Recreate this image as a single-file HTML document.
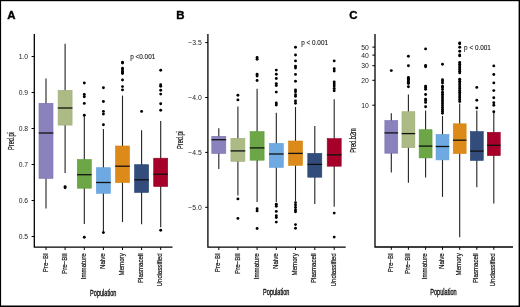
<!DOCTYPE html>
<html><head><meta charset="utf-8"><style>
html,body{margin:0;padding:0;background:#fff;overflow:hidden;}
svg{display:block;will-change:transform;}
text{font-family:"Liberation Sans",sans-serif;fill:#222;}
.tk{font-size:6.8px;}
.xl{font-size:7.4px;fill:#111;stroke:#111;stroke-width:0.2px;}
.let{font-size:10.4px;font-weight:bold;fill:#000;stroke:#000;stroke-width:0.35px;}
.pt{font-size:6.4px;fill:#111;stroke:#111;stroke-width:0.1px;}
.yl{font-size:8.3px;fill:#111;stroke:#111;stroke-width:0.2px;}
.pop{font-size:9px;fill:#111;stroke:#111;stroke-width:0.35px;}
</style></head><body>
<svg width="520" height="307" viewBox="0 0 520 307">
<rect x="0" y="0" width="520" height="307" fill="#fff"/>
<line x1="46.0" y1="78.5" x2="46.0" y2="208.6" stroke="#222" stroke-width="1.1"/>
<rect x="39.00" y="103.30" width="14.00" height="75.10" fill="#8a82bd" stroke="#7b71b3" stroke-width="0.6"/>
<line x1="38.70" y1="133.0" x2="53.30" y2="133.0" stroke="#111" stroke-width="1.3"/>
<line x1="65.1" y1="43.7" x2="65.1" y2="172.9" stroke="#222" stroke-width="1.1"/>
<rect x="58.10" y="90.30" width="14.00" height="34.80" fill="#acbb85" stroke="#9fb077" stroke-width="0.6"/>
<line x1="57.80" y1="108.0" x2="72.40" y2="108.0" stroke="#111" stroke-width="1.3"/>
<circle cx="65.1" cy="186.6" r="1.45" fill="#000"/>
<circle cx="65.1" cy="187.8" r="1.45" fill="#000"/>
<line x1="84.3" y1="116.0" x2="84.3" y2="224.0" stroke="#222" stroke-width="1.1"/>
<rect x="77.30" y="159.50" width="14.00" height="28.70" fill="#6ca647" stroke="#5c9d36" stroke-width="0.6"/>
<line x1="77.00" y1="174.7" x2="91.60" y2="174.7" stroke="#111" stroke-width="1.3"/>
<circle cx="84.3" cy="83.0" r="1.45" fill="#000"/>
<circle cx="84.3" cy="94.5" r="1.45" fill="#000"/>
<circle cx="84.3" cy="96.7" r="1.45" fill="#000"/>
<circle cx="84.3" cy="103.4" r="1.45" fill="#000"/>
<circle cx="84.3" cy="115.3" r="1.45" fill="#000"/>
<circle cx="84.3" cy="237.2" r="1.45" fill="#000"/>
<line x1="103.4" y1="129.0" x2="103.4" y2="232.6" stroke="#222" stroke-width="1.1"/>
<rect x="96.40" y="167.70" width="14.00" height="25.60" fill="#6eaae1" stroke="#5f9fdb" stroke-width="0.6"/>
<line x1="96.10" y1="182.5" x2="110.70" y2="182.5" stroke="#111" stroke-width="1.3"/>
<circle cx="103.4" cy="87.8" r="1.45" fill="#000"/>
<circle cx="103.4" cy="101.5" r="1.45" fill="#000"/>
<circle cx="103.4" cy="111.4" r="1.45" fill="#000"/>
<circle cx="103.4" cy="114.1" r="1.45" fill="#000"/>
<circle cx="103.4" cy="124.7" r="1.45" fill="#000"/>
<circle cx="103.4" cy="232.6" r="1.45" fill="#000"/>
<line x1="122.5" y1="95.6" x2="122.5" y2="222.0" stroke="#222" stroke-width="1.1"/>
<rect x="115.50" y="146.00" width="14.00" height="36.60" fill="#dc8b1b" stroke="#d48310" stroke-width="0.6"/>
<line x1="115.20" y1="166.2" x2="129.80" y2="166.2" stroke="#111" stroke-width="1.3"/>
<circle cx="122.5" cy="62.3" r="1.45" fill="#000"/>
<circle cx="122.5" cy="63.1" r="1.45" fill="#000"/>
<circle cx="122.5" cy="68.2" r="1.45" fill="#000"/>
<circle cx="122.5" cy="69.9" r="1.45" fill="#000"/>
<circle cx="122.5" cy="71.5" r="1.45" fill="#000"/>
<circle cx="122.5" cy="72.8" r="1.45" fill="#000"/>
<circle cx="122.5" cy="73.6" r="1.45" fill="#000"/>
<circle cx="122.5" cy="80.0" r="1.45" fill="#000"/>
<circle cx="122.5" cy="86.6" r="1.45" fill="#000"/>
<circle cx="122.5" cy="89.9" r="1.45" fill="#000"/>
<line x1="141.6" y1="130.2" x2="141.6" y2="224.3" stroke="#222" stroke-width="1.1"/>
<rect x="134.60" y="164.70" width="14.00" height="27.70" fill="#324c7b" stroke="#243f73" stroke-width="0.6"/>
<line x1="134.30" y1="179.8" x2="148.90" y2="179.8" stroke="#111" stroke-width="1.3"/>
<circle cx="141.6" cy="111.4" r="1.45" fill="#000"/>
<line x1="160.7" y1="121.0" x2="160.7" y2="227.3" stroke="#222" stroke-width="1.1"/>
<rect x="153.70" y="158.20" width="14.00" height="28.30" fill="#a6002a" stroke="#9a0024" stroke-width="0.6"/>
<line x1="153.40" y1="174.2" x2="168.00" y2="174.2" stroke="#111" stroke-width="1.3"/>
<circle cx="160.7" cy="70.3" r="1.45" fill="#000"/>
<circle cx="160.7" cy="84.7" r="1.45" fill="#000"/>
<circle cx="160.7" cy="86.3" r="1.45" fill="#000"/>
<circle cx="160.7" cy="90.3" r="1.45" fill="#000"/>
<circle cx="160.7" cy="94.1" r="1.45" fill="#000"/>
<circle cx="160.7" cy="103.8" r="1.45" fill="#000"/>
<circle cx="160.7" cy="110.2" r="1.45" fill="#000"/>
<circle cx="160.7" cy="230.3" r="1.45" fill="#000"/>
<path d="M34.3 34 V247.2 H172.5" fill="none" stroke="#000" stroke-width="1.3"/>
<line x1="31.599999999999998" y1="56.5" x2="34.3" y2="56.5" stroke="#000" stroke-width="1"/>
<text x="28.099999999999998" y="58.6" text-anchor="end" class="tk">1.0</text>
<line x1="31.599999999999998" y1="92.5" x2="34.3" y2="92.5" stroke="#000" stroke-width="1"/>
<text x="28.099999999999998" y="94.6" text-anchor="end" class="tk">0.9</text>
<line x1="31.599999999999998" y1="128.5" x2="34.3" y2="128.5" stroke="#000" stroke-width="1"/>
<text x="28.099999999999998" y="130.6" text-anchor="end" class="tk">0.8</text>
<line x1="31.599999999999998" y1="164.5" x2="34.3" y2="164.5" stroke="#000" stroke-width="1"/>
<text x="28.099999999999998" y="166.6" text-anchor="end" class="tk">0.7</text>
<line x1="31.599999999999998" y1="200.5" x2="34.3" y2="200.5" stroke="#000" stroke-width="1"/>
<text x="28.099999999999998" y="202.6" text-anchor="end" class="tk">0.6</text>
<line x1="31.599999999999998" y1="236.5" x2="34.3" y2="236.5" stroke="#000" stroke-width="1"/>
<text x="28.099999999999998" y="238.6" text-anchor="end" class="tk">0.5</text>
<line x1="46.0" y1="247.2" x2="46.0" y2="250.0" stroke="#000" stroke-width="1"/>
<text transform="translate(47.6 253.3) rotate(-90) scale(0.83 1)" text-anchor="end" class="xl">Pre−BI</text>
<line x1="65.1" y1="247.2" x2="65.1" y2="250.0" stroke="#000" stroke-width="1"/>
<text transform="translate(66.69999999999999 253.3) rotate(-90) scale(0.83 1)" text-anchor="end" class="xl">Pre−BII</text>
<line x1="84.3" y1="247.2" x2="84.3" y2="250.0" stroke="#000" stroke-width="1"/>
<text transform="translate(85.89999999999999 253.3) rotate(-90) scale(0.83 1)" text-anchor="end" class="xl">Immature</text>
<line x1="103.4" y1="247.2" x2="103.4" y2="250.0" stroke="#000" stroke-width="1"/>
<text transform="translate(105.0 253.3) rotate(-90) scale(0.83 1)" text-anchor="end" class="xl">Naive</text>
<line x1="122.5" y1="247.2" x2="122.5" y2="250.0" stroke="#000" stroke-width="1"/>
<text transform="translate(124.1 253.3) rotate(-90) scale(0.83 1)" text-anchor="end" class="xl">Memory</text>
<line x1="141.6" y1="247.2" x2="141.6" y2="250.0" stroke="#000" stroke-width="1"/>
<text transform="translate(143.2 253.3) rotate(-90) scale(0.83 1)" text-anchor="end" class="xl">Plasmacell</text>
<line x1="160.7" y1="247.2" x2="160.7" y2="250.0" stroke="#000" stroke-width="1"/>
<text transform="translate(162.29999999999998 253.3) rotate(-90) scale(0.83 1)" text-anchor="end" class="xl">Unclassified</text>
<text transform="translate(7.3 18.9) scale(1.1 1)" class="let">A</text>
<text x="130.2" y="58.6" class="pt">p <0.001</text>
<line x1="218.8" y1="128.2" x2="218.8" y2="168.9" stroke="#222" stroke-width="1.1"/>
<rect x="211.80" y="136.30" width="14.00" height="17.20" fill="#8a82bd" stroke="#7b71b3" stroke-width="0.6"/>
<line x1="211.50" y1="139.7" x2="226.10" y2="139.7" stroke="#111" stroke-width="1.3"/>
<line x1="237.9" y1="106.4" x2="237.9" y2="195.5" stroke="#222" stroke-width="1.1"/>
<rect x="230.90" y="138.30" width="14.00" height="23.10" fill="#acbb85" stroke="#9fb077" stroke-width="0.6"/>
<line x1="230.60" y1="150.9" x2="245.20" y2="150.9" stroke="#111" stroke-width="1.3"/>
<circle cx="237.9" cy="95.2" r="1.45" fill="#000"/>
<circle cx="237.9" cy="99.9" r="1.45" fill="#000"/>
<circle cx="237.9" cy="198.9" r="1.45" fill="#000"/>
<circle cx="237.9" cy="218.4" r="1.45" fill="#000"/>
<line x1="257.1" y1="88.8" x2="257.1" y2="201.9" stroke="#222" stroke-width="1.1"/>
<rect x="250.10" y="131.60" width="14.00" height="28.60" fill="#6ca647" stroke="#5c9d36" stroke-width="0.6"/>
<line x1="249.80" y1="147.9" x2="264.40" y2="147.9" stroke="#111" stroke-width="1.3"/>
<circle cx="257.1" cy="57.4" r="1.45" fill="#000"/>
<circle cx="257.1" cy="59.3" r="1.45" fill="#000"/>
<circle cx="257.1" cy="74.2" r="1.45" fill="#000"/>
<circle cx="257.1" cy="76.1" r="1.45" fill="#000"/>
<circle cx="257.1" cy="80.5" r="1.45" fill="#000"/>
<circle cx="257.1" cy="208.8" r="1.45" fill="#000"/>
<circle cx="257.1" cy="210.9" r="1.45" fill="#000"/>
<circle cx="257.1" cy="228.5" r="1.45" fill="#000"/>
<line x1="276.3" y1="112.8" x2="276.3" y2="201.9" stroke="#222" stroke-width="1.1"/>
<rect x="269.30" y="143.40" width="14.00" height="24.00" fill="#6eaae1" stroke="#5f9fdb" stroke-width="0.6"/>
<line x1="269.00" y1="154.0" x2="283.60" y2="154.0" stroke="#111" stroke-width="1.3"/>
<circle cx="276.3" cy="70.1" r="1.45" fill="#000"/>
<circle cx="276.3" cy="74.2" r="1.45" fill="#000"/>
<circle cx="276.3" cy="78.5" r="1.45" fill="#000"/>
<circle cx="276.3" cy="83.6" r="1.45" fill="#000"/>
<circle cx="276.3" cy="85.5" r="1.45" fill="#000"/>
<circle cx="276.3" cy="92.1" r="1.45" fill="#000"/>
<circle cx="276.3" cy="103.0" r="1.45" fill="#000"/>
<circle cx="276.3" cy="105.0" r="1.45" fill="#000"/>
<circle cx="276.3" cy="204.3" r="1.45" fill="#000"/>
<circle cx="276.3" cy="206.2" r="1.45" fill="#000"/>
<circle cx="276.3" cy="211.4" r="1.45" fill="#000"/>
<circle cx="276.3" cy="215.8" r="1.45" fill="#000"/>
<circle cx="276.3" cy="217.5" r="1.45" fill="#000"/>
<circle cx="276.3" cy="222.1" r="1.45" fill="#000"/>
<line x1="295.5" y1="107.0" x2="295.5" y2="201.3" stroke="#222" stroke-width="1.1"/>
<rect x="288.50" y="141.00" width="14.00" height="24.30" fill="#dc8b1b" stroke="#d48310" stroke-width="0.6"/>
<line x1="288.20" y1="153.4" x2="302.80" y2="153.4" stroke="#111" stroke-width="1.3"/>
<circle cx="295.5" cy="47.2" r="1.45" fill="#000"/>
<circle cx="295.5" cy="55.0" r="1.45" fill="#000"/>
<circle cx="295.5" cy="60.9" r="1.45" fill="#000"/>
<circle cx="295.5" cy="66.2" r="1.45" fill="#000"/>
<circle cx="295.5" cy="68.1" r="1.45" fill="#000"/>
<circle cx="295.5" cy="74.4" r="1.45" fill="#000"/>
<circle cx="295.5" cy="81.2" r="1.45" fill="#000"/>
<circle cx="295.5" cy="90.0" r="1.45" fill="#000"/>
<circle cx="295.5" cy="91.8" r="1.45" fill="#000"/>
<circle cx="295.5" cy="94.6" r="1.45" fill="#000"/>
<circle cx="295.5" cy="96.3" r="1.45" fill="#000"/>
<circle cx="295.5" cy="100.9" r="1.45" fill="#000"/>
<circle cx="295.5" cy="103.2" r="1.45" fill="#000"/>
<circle cx="295.5" cy="202.6" r="1.45" fill="#000"/>
<circle cx="295.5" cy="205.0" r="1.45" fill="#000"/>
<circle cx="295.5" cy="207.5" r="1.45" fill="#000"/>
<circle cx="295.5" cy="210.0" r="1.45" fill="#000"/>
<circle cx="295.5" cy="211.8" r="1.45" fill="#000"/>
<circle cx="295.5" cy="224.6" r="1.45" fill="#000"/>
<circle cx="295.5" cy="228.2" r="1.45" fill="#000"/>
<line x1="314.8" y1="125.9" x2="314.8" y2="203.9" stroke="#222" stroke-width="1.1"/>
<rect x="307.80" y="153.40" width="14.00" height="23.80" fill="#324c7b" stroke="#243f73" stroke-width="0.6"/>
<line x1="307.50" y1="164.4" x2="322.10" y2="164.4" stroke="#111" stroke-width="1.3"/>
<line x1="334.2" y1="99.2" x2="334.2" y2="206.8" stroke="#222" stroke-width="1.1"/>
<rect x="327.20" y="138.60" width="14.00" height="27.60" fill="#a6002a" stroke="#9a0024" stroke-width="0.6"/>
<line x1="326.90" y1="154.8" x2="341.50" y2="154.8" stroke="#111" stroke-width="1.3"/>
<circle cx="334.2" cy="60.9" r="1.45" fill="#000"/>
<circle cx="334.2" cy="68.7" r="1.45" fill="#000"/>
<circle cx="334.2" cy="71.0" r="1.45" fill="#000"/>
<circle cx="334.2" cy="82.0" r="1.45" fill="#000"/>
<circle cx="334.2" cy="84.0" r="1.45" fill="#000"/>
<circle cx="334.2" cy="86.0" r="1.45" fill="#000"/>
<circle cx="334.2" cy="88.5" r="1.45" fill="#000"/>
<circle cx="334.2" cy="90.7" r="1.45" fill="#000"/>
<circle cx="334.2" cy="213.1" r="1.45" fill="#000"/>
<circle cx="334.2" cy="237.1" r="1.45" fill="#000"/>
<path d="M207.9 34 V247.2 H345.7" fill="none" stroke="#000" stroke-width="1.3"/>
<line x1="205.20000000000002" y1="42.6" x2="207.9" y2="42.6" stroke="#000" stroke-width="1"/>
<text x="201.70000000000002" y="45.1" text-anchor="end" class="tk">−3.5</text>
<line x1="205.20000000000002" y1="97.5" x2="207.9" y2="97.5" stroke="#000" stroke-width="1"/>
<text x="201.70000000000002" y="100.0" text-anchor="end" class="tk">−4.0</text>
<line x1="205.20000000000002" y1="152.4" x2="207.9" y2="152.4" stroke="#000" stroke-width="1"/>
<text x="201.70000000000002" y="154.9" text-anchor="end" class="tk">−4.5</text>
<line x1="205.20000000000002" y1="207.3" x2="207.9" y2="207.3" stroke="#000" stroke-width="1"/>
<text x="201.70000000000002" y="209.8" text-anchor="end" class="tk">−5.0</text>
<line x1="218.8" y1="247.2" x2="218.8" y2="250.0" stroke="#000" stroke-width="1"/>
<text transform="translate(220.4 253.3) rotate(-90) scale(0.83 1)" text-anchor="end" class="xl">Pre−BI</text>
<line x1="237.9" y1="247.2" x2="237.9" y2="250.0" stroke="#000" stroke-width="1"/>
<text transform="translate(239.5 253.3) rotate(-90) scale(0.83 1)" text-anchor="end" class="xl">Pre−BII</text>
<line x1="257.1" y1="247.2" x2="257.1" y2="250.0" stroke="#000" stroke-width="1"/>
<text transform="translate(258.70000000000005 253.3) rotate(-90) scale(0.83 1)" text-anchor="end" class="xl">Immature</text>
<line x1="276.3" y1="247.2" x2="276.3" y2="250.0" stroke="#000" stroke-width="1"/>
<text transform="translate(277.90000000000003 253.3) rotate(-90) scale(0.83 1)" text-anchor="end" class="xl">Naive</text>
<line x1="295.5" y1="247.2" x2="295.5" y2="250.0" stroke="#000" stroke-width="1"/>
<text transform="translate(297.1 253.3) rotate(-90) scale(0.83 1)" text-anchor="end" class="xl">Memory</text>
<line x1="314.8" y1="247.2" x2="314.8" y2="250.0" stroke="#000" stroke-width="1"/>
<text transform="translate(316.40000000000003 253.3) rotate(-90) scale(0.83 1)" text-anchor="end" class="xl">Plasmacell</text>
<line x1="334.2" y1="247.2" x2="334.2" y2="250.0" stroke="#000" stroke-width="1"/>
<text transform="translate(335.8 253.3) rotate(-90) scale(0.83 1)" text-anchor="end" class="xl">Unclassified</text>
<text transform="translate(176.3 18.9) scale(1.1 1)" class="let">B</text>
<text x="301.2" y="45.3" class="pt">p < 0.001</text>
<line x1="391.3" y1="113.3" x2="391.3" y2="172.6" stroke="#222" stroke-width="1.1"/>
<rect x="384.85" y="120.50" width="12.90" height="32.70" fill="#8a82bd" stroke="#7b71b3" stroke-width="0.6"/>
<line x1="384.55" y1="132.9" x2="398.05" y2="132.9" stroke="#111" stroke-width="1.3"/>
<circle cx="391.3" cy="70.6" r="1.45" fill="#000"/>
<line x1="408.4" y1="94.4" x2="408.4" y2="182.8" stroke="#222" stroke-width="1.1"/>
<rect x="401.95" y="111.70" width="12.90" height="36.00" fill="#acbb85" stroke="#9fb077" stroke-width="0.6"/>
<line x1="401.65" y1="133.6" x2="415.15" y2="133.6" stroke="#111" stroke-width="1.3"/>
<circle cx="408.4" cy="56.3" r="1.45" fill="#000"/>
<circle cx="408.4" cy="65.7" r="1.45" fill="#000"/>
<circle cx="408.4" cy="77.4" r="1.45" fill="#000"/>
<circle cx="408.4" cy="78.5" r="1.45" fill="#000"/>
<circle cx="408.4" cy="79.6" r="1.45" fill="#000"/>
<circle cx="408.4" cy="80.9" r="1.45" fill="#000"/>
<circle cx="408.4" cy="82.2" r="1.45" fill="#000"/>
<circle cx="408.4" cy="83.5" r="1.45" fill="#000"/>
<circle cx="408.4" cy="86.7" r="1.45" fill="#000"/>
<line x1="425.6" y1="110.4" x2="425.6" y2="177.4" stroke="#222" stroke-width="1.1"/>
<rect x="419.15" y="129.70" width="12.90" height="28.20" fill="#6ca647" stroke="#5c9d36" stroke-width="0.6"/>
<line x1="418.85" y1="146.1" x2="432.35" y2="146.1" stroke="#111" stroke-width="1.3"/>
<circle cx="425.6" cy="48.9" r="1.45" fill="#000"/>
<circle cx="425.6" cy="65.5" r="1.45" fill="#000"/>
<circle cx="425.6" cy="66.8" r="1.45" fill="#000"/>
<circle cx="425.6" cy="86.1" r="1.45" fill="#000"/>
<circle cx="425.6" cy="87.4" r="1.45" fill="#000"/>
<circle cx="425.6" cy="89.3" r="1.45" fill="#000"/>
<circle cx="425.6" cy="94.5" r="1.45" fill="#000"/>
<circle cx="425.6" cy="99.1" r="1.45" fill="#000"/>
<circle cx="425.6" cy="100.4" r="1.45" fill="#000"/>
<circle cx="425.6" cy="102.4" r="1.45" fill="#000"/>
<circle cx="425.6" cy="106.7" r="1.45" fill="#000"/>
<line x1="442.5" y1="115.9" x2="442.5" y2="196.9" stroke="#222" stroke-width="1.1"/>
<rect x="436.05" y="134.40" width="12.90" height="25.50" fill="#6eaae1" stroke="#5f9fdb" stroke-width="0.6"/>
<line x1="435.75" y1="146.5" x2="449.25" y2="146.5" stroke="#111" stroke-width="1.3"/>
<circle cx="442.5" cy="64.3" r="1.45" fill="#000"/>
<circle cx="442.5" cy="79.8" r="1.45" fill="#000"/>
<circle cx="442.5" cy="81.1" r="1.45" fill="#000"/>
<circle cx="442.5" cy="83.0" r="1.45" fill="#000"/>
<circle cx="442.5" cy="86.3" r="1.45" fill="#000"/>
<circle cx="442.5" cy="87.6" r="1.45" fill="#000"/>
<circle cx="442.5" cy="89.5" r="1.45" fill="#000"/>
<circle cx="442.5" cy="92.3" r="1.45" fill="#000"/>
<circle cx="442.5" cy="94.2" r="1.45" fill="#000"/>
<circle cx="442.5" cy="96.1" r="1.45" fill="#000"/>
<circle cx="442.5" cy="98.0" r="1.45" fill="#000"/>
<circle cx="442.5" cy="99.9" r="1.45" fill="#000"/>
<circle cx="442.5" cy="101.8" r="1.45" fill="#000"/>
<circle cx="442.5" cy="103.7" r="1.45" fill="#000"/>
<circle cx="442.5" cy="105.6" r="1.45" fill="#000"/>
<circle cx="442.5" cy="107.5" r="1.45" fill="#000"/>
<circle cx="442.5" cy="109.4" r="1.45" fill="#000"/>
<circle cx="442.5" cy="111.3" r="1.45" fill="#000"/>
<circle cx="442.5" cy="113.2" r="1.45" fill="#000"/>
<line x1="459.7" y1="103.6" x2="459.7" y2="237.2" stroke="#222" stroke-width="1.1"/>
<rect x="453.25" y="123.80" width="12.90" height="29.80" fill="#dc8b1b" stroke="#d48310" stroke-width="0.6"/>
<line x1="452.95" y1="140.2" x2="466.45" y2="140.2" stroke="#111" stroke-width="1.3"/>
<circle cx="459.7" cy="42.9" r="1.45" fill="#000"/>
<circle cx="459.7" cy="43.7" r="1.45" fill="#000"/>
<circle cx="459.7" cy="47.3" r="1.45" fill="#000"/>
<circle cx="459.7" cy="51.3" r="1.45" fill="#000"/>
<circle cx="459.7" cy="54.9" r="1.45" fill="#000"/>
<circle cx="459.7" cy="55.9" r="1.45" fill="#000"/>
<circle cx="459.7" cy="62.4" r="1.45" fill="#000"/>
<circle cx="459.7" cy="64.15" r="1.45" fill="#000"/>
<circle cx="459.7" cy="65.9" r="1.45" fill="#000"/>
<circle cx="459.7" cy="67.65" r="1.45" fill="#000"/>
<circle cx="459.7" cy="69.4" r="1.45" fill="#000"/>
<circle cx="459.7" cy="71.15" r="1.45" fill="#000"/>
<circle cx="459.7" cy="72.9" r="1.45" fill="#000"/>
<circle cx="459.7" cy="79.3" r="1.45" fill="#000"/>
<circle cx="459.7" cy="81.15" r="1.45" fill="#000"/>
<circle cx="459.7" cy="83.0" r="1.45" fill="#000"/>
<circle cx="459.7" cy="84.85" r="1.45" fill="#000"/>
<circle cx="459.7" cy="86.7" r="1.45" fill="#000"/>
<circle cx="459.7" cy="88.55" r="1.45" fill="#000"/>
<circle cx="459.7" cy="90.4" r="1.45" fill="#000"/>
<circle cx="459.7" cy="92.25" r="1.45" fill="#000"/>
<circle cx="459.7" cy="94.1" r="1.45" fill="#000"/>
<circle cx="459.7" cy="95.95" r="1.45" fill="#000"/>
<circle cx="459.7" cy="97.8" r="1.45" fill="#000"/>
<circle cx="459.7" cy="99.65" r="1.45" fill="#000"/>
<circle cx="459.7" cy="101.5" r="1.45" fill="#000"/>
<line x1="476.8" y1="110.4" x2="476.8" y2="187.2" stroke="#222" stroke-width="1.1"/>
<rect x="470.35" y="131.60" width="12.90" height="28.80" fill="#324c7b" stroke="#243f73" stroke-width="0.6"/>
<line x1="470.05" y1="151.1" x2="483.55" y2="151.1" stroke="#111" stroke-width="1.3"/>
<circle cx="476.8" cy="87.4" r="1.45" fill="#000"/>
<circle cx="476.8" cy="100.2" r="1.45" fill="#000"/>
<circle cx="476.8" cy="107.9" r="1.45" fill="#000"/>
<line x1="493.8" y1="112.4" x2="493.8" y2="203.4" stroke="#222" stroke-width="1.1"/>
<rect x="487.35" y="132.30" width="12.90" height="23.30" fill="#a6002a" stroke="#9a0024" stroke-width="0.6"/>
<line x1="487.05" y1="145.3" x2="500.55" y2="145.3" stroke="#111" stroke-width="1.3"/>
<circle cx="493.8" cy="65.9" r="1.45" fill="#000"/>
<circle cx="493.8" cy="74.5" r="1.45" fill="#000"/>
<circle cx="493.8" cy="82.9" r="1.45" fill="#000"/>
<circle cx="493.8" cy="90.6" r="1.45" fill="#000"/>
<circle cx="493.8" cy="97.7" r="1.45" fill="#000"/>
<circle cx="493.8" cy="102.7" r="1.45" fill="#000"/>
<circle cx="493.8" cy="105.3" r="1.45" fill="#000"/>
<circle cx="493.8" cy="111.8" r="1.45" fill="#000"/>
<path d="M375.0 34 V247.0 H513.0" fill="none" stroke="#000" stroke-width="1.3"/>
<line x1="372.3" y1="47.1" x2="375.0" y2="47.1" stroke="#000" stroke-width="1"/>
<text x="368.8" y="49.6" text-anchor="end" class="tk">50</text>
<line x1="372.3" y1="55.1" x2="375.0" y2="55.1" stroke="#000" stroke-width="1"/>
<text x="368.8" y="57.6" text-anchor="end" class="tk">40</text>
<line x1="372.3" y1="65.7" x2="375.0" y2="65.7" stroke="#000" stroke-width="1"/>
<text x="368.8" y="68.2" text-anchor="end" class="tk">30</text>
<line x1="372.3" y1="80.3" x2="375.0" y2="80.3" stroke="#000" stroke-width="1"/>
<text x="368.8" y="82.8" text-anchor="end" class="tk">20</text>
<line x1="372.3" y1="105.2" x2="375.0" y2="105.2" stroke="#000" stroke-width="1"/>
<text x="368.8" y="107.7" text-anchor="end" class="tk">10</text>
<line x1="391.3" y1="247.0" x2="391.3" y2="249.8" stroke="#000" stroke-width="1"/>
<text transform="translate(392.90000000000003 253.3) rotate(-90) scale(0.83 1)" text-anchor="end" class="xl">Pre−BI</text>
<line x1="408.4" y1="247.0" x2="408.4" y2="249.8" stroke="#000" stroke-width="1"/>
<text transform="translate(410.0 253.3) rotate(-90) scale(0.83 1)" text-anchor="end" class="xl">Pre−BII</text>
<line x1="425.6" y1="247.0" x2="425.6" y2="249.8" stroke="#000" stroke-width="1"/>
<text transform="translate(427.20000000000005 253.3) rotate(-90) scale(0.83 1)" text-anchor="end" class="xl">Immature</text>
<line x1="442.5" y1="247.0" x2="442.5" y2="249.8" stroke="#000" stroke-width="1"/>
<text transform="translate(444.1 253.3) rotate(-90) scale(0.83 1)" text-anchor="end" class="xl">Naive</text>
<line x1="459.7" y1="247.0" x2="459.7" y2="249.8" stroke="#000" stroke-width="1"/>
<text transform="translate(461.3 253.3) rotate(-90) scale(0.83 1)" text-anchor="end" class="xl">Memory</text>
<line x1="476.8" y1="247.0" x2="476.8" y2="249.8" stroke="#000" stroke-width="1"/>
<text transform="translate(478.40000000000003 253.3) rotate(-90) scale(0.83 1)" text-anchor="end" class="xl">Plasmacell</text>
<line x1="493.8" y1="247.0" x2="493.8" y2="249.8" stroke="#000" stroke-width="1"/>
<text transform="translate(495.40000000000003 253.3) rotate(-90) scale(0.83 1)" text-anchor="end" class="xl">Unclassified</text>
<text transform="translate(349.2 18.9) scale(1.1 1)" class="let">C</text>
<text x="464.1" y="49.7" class="pt">p < 0.001</text>
<text transform="translate(14.1 150) rotate(-90) scale(0.68 1)" class="yl">Pred.pi</text>
<text transform="translate(182.9 149.0) rotate(-90) scale(0.68 1)" class="yl">Pred.pi</text>
<text transform="translate(356.4 152.7) rotate(-90) scale(0.68 1)" class="yl">Pred.b2m</text>
<text transform="translate(90.1 295.6) scale(0.62 1)" class="pop">Population</text>
<text transform="translate(263.1 295.4) scale(0.62 1)" class="pop">Population</text>
<text transform="translate(430.3 295.4) scale(0.62 1)" class="pop">Population</text>
<rect x="0" y="0" width="520" height="1.2" fill="#000"/><rect x="0" y="0" width="1.1" height="307" fill="#000"/><rect x="518.6" y="0" width="1.4" height="307" fill="#000"/><rect x="0" y="305.5" width="520" height="1.5" fill="#000"/>
</svg>
</body></html>
